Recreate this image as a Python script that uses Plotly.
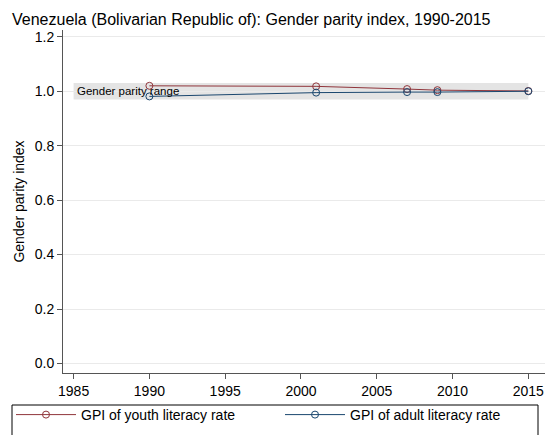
import plotly.graph_objects as go

# Data
years = [1990, 2001, 2007, 2009, 2015]
youth_gpi = [1.020, 1.018, 1.008, 1.004, 1.001]
adult_gpi = [0.981, 0.995, 0.997, 0.997, 1.000]
parity_low, parity_high = 0.97, 1.03
parity_start, parity_end = 1985, 2015

red = '#90353B'
blue = '#1A476F'

fig = go.Figure()

# Gender parity band
fig.add_shape(type='rect', xref='x', yref='y',
              x0=parity_start, x1=parity_end, y0=parity_low, y1=parity_high,
              fillcolor='#E4E4E4', line=dict(width=0), layer='below')
fig.add_annotation(x=parity_start, y=(parity_low + parity_high) / 2,
                   xref='x', yref='y', text='Gender parity range',
                   showarrow=False, xanchor='left', xshift=1,
                   font=dict(size=11.5, color='black'))

fig.add_trace(go.Scatter(
    x=years, y=youth_gpi, mode='lines+markers', name='GPI of youth literacy rate',
    line=dict(color=red, width=1),
    marker=dict(symbol='circle-open', size=7, color=red, line=dict(width=1))
))
fig.add_trace(go.Scatter(
    x=years, y=adult_gpi, mode='lines+markers', name='GPI of adult literacy rate',
    line=dict(color=blue, width=1),
    marker=dict(symbol='circle-open', size=7, color=blue, line=dict(width=1))
))

# Legend frame
fig.add_shape(type='rect', xref='paper', yref='paper',
              x0=(12 - 63) / 482, x1=(538 - 63) / 482,
              y0=(373 - 436) / 343, y1=(373 - 405) / 343,
              line=dict(color='black', width=1))

fig.update_layout(
    width=549, height=435,
    margin=dict(l=63, r=4, t=30, b=62),
    plot_bgcolor='white', paper_bgcolor='white',
    font=dict(family='Liberation Sans, Arial, sans-serif', size=14, color='black'),
    title=dict(text='Venezuela (Bolivarian Republic of): Gender parity index, 1990-2015',
               x=12 / 549, xref='container', xanchor='left',
               y=1 - 19 / 435, yref='container', yanchor='middle',
               font=dict(size=16, color='black')),
    xaxis=dict(range=[1984.3, 2016.1], tickvals=[1985, 1990, 1995, 2000, 2005, 2010, 2015],
               showgrid=False, zeroline=False, showline=True, linecolor='#555555',
               ticks='outside', ticklen=5, tickcolor='#555555', tickfont=dict(size=14),
               automargin=False),
    yaxis=dict(range=[-0.035, 1.225], tickvals=[0, 0.2, 0.4, 0.6, 0.8, 1.0, 1.2],
               tickformat='.1f', showgrid=True, gridcolor='#EAEAEA', zeroline=False,
               showline=True, linecolor='#555555', ticks='outside', ticklen=5,
               tickcolor='#555555', tickfont=dict(size=14), automargin=False,
               title=dict(text='Gender parity index', font=dict(size=14), standoff=6)),
    legend=dict(orientation='h', xanchor='left', yanchor='middle',
                x=(16 - 63) / 482, y=(373 - 415) / 343,
                bgcolor='rgba(0,0,0,0)', font=dict(size=14), itemwidth=60,
                entrywidth=194),
)

fig.write_html('out.html', config={'displayModeBar': False},
               post_script="document.body.style.margin='0';"
                           "document.body.style.overflow='hidden';")
